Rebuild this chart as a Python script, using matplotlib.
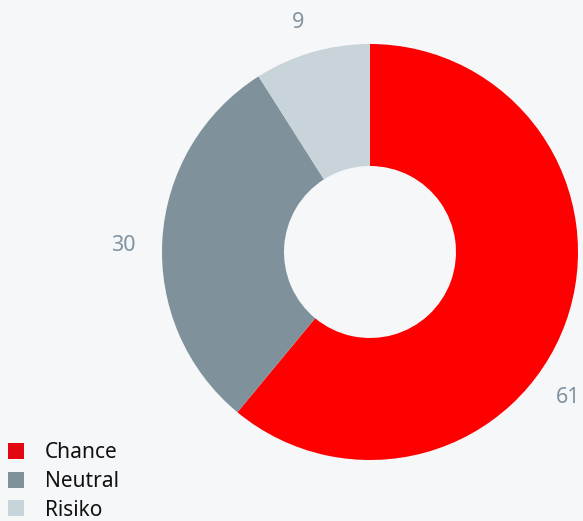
import matplotlib
matplotlib.use("Agg")
import matplotlib.pyplot as plt
from matplotlib.patches import Patch

categories = ["Chance", "Neutral", "Risiko"]
values = [61, 30, 9]
pie_colors = ["#ff0000", "#7f929c", "#c8d3da"]
legend_colors = ["#e30613", "#7f929c", "#c8d3da"]

W, H = 583, 521
fig = plt.figure(figsize=(W / 100, H / 100), dpi=100)
fig.patch.set_facecolor("#f6f7f9")
ax = fig.add_axes([0, 0, 1, 1])

cx, cy, r = 370, H - 252, 208
wedges, texts = ax.pie(
    values, colors=pie_colors, startangle=90, counterclock=False,
    center=(cx, cy), radius=r, labels=[str(v) for v in values],
    labeldistance=1.17, frame=True,
    wedgeprops=dict(width=122, edgecolor="none"),
    textprops=dict(color="#8193a0", fontsize=15.5, family="Noto Sans"),
)
ax.set_xlim(0, W)
ax.set_ylim(0, H)
ax.set_aspect("equal")
ax.axis("off")

# label placement as in the reference (pixel positions from top-left)
label_pos = [(568, 395), (123, 243), (298, 20)]
for t, (px, py) in zip(texts, label_pos):
    t.set_ha("center")
    t.set_va("center_baseline")
    t.set_position((px, H - py))

handles = [Patch(facecolor=c, edgecolor="none") for c in legend_colors]
leg = ax.legend(handles, categories, loc="lower left",
                bbox_to_anchor=(8 / W, 0.5 / H), bbox_transform=fig.transFigure,
                frameon=False, handlelength=0.77, handleheight=0.77,
                handletextpad=1.0, labelspacing=0.36, borderpad=0.0,
                borderaxespad=0.0, prop=dict(family="Noto Sans", size=15))
for t in leg.get_texts():
    t.set_color("#111111")

fig.savefig("out.png", dpi=100, facecolor=fig.get_facecolor())
